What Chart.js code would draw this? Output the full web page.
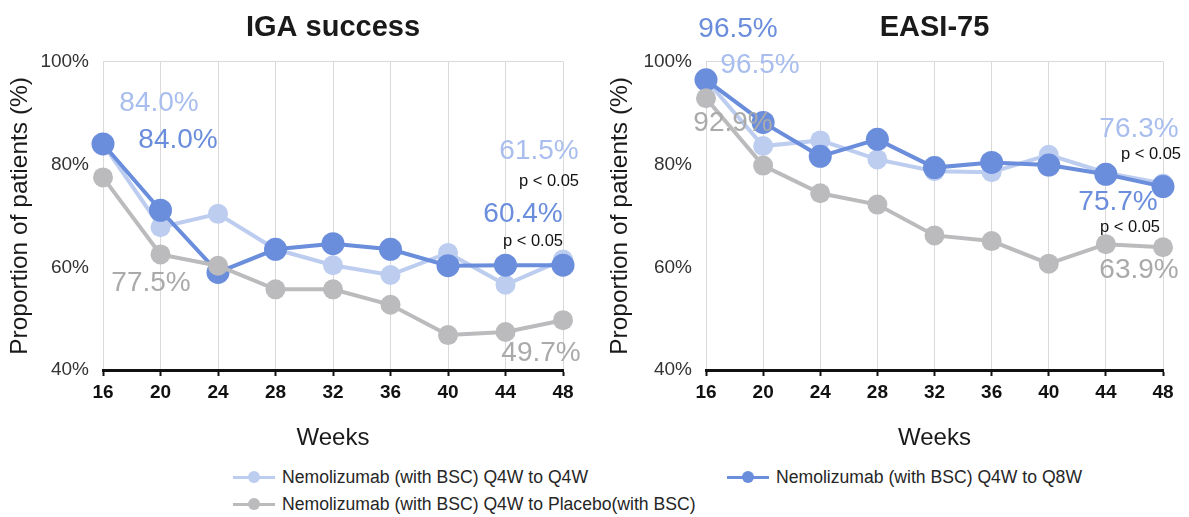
<!DOCTYPE html>
<html>
<head>
<meta charset="utf-8">
<script src="https://cdn.jsdelivr.net/npm/chart.js@4.4.1/dist/chart.umd.min.js"></script>
<style>
  html, body { margin: 0; padding: 0; background: #fff; }
  #wrap { position: relative; width: 1189px; height: 517px; overflow: hidden;
          font-family: "Liberation Sans", Arial, sans-serif; }
  .panel { position: absolute; top: 0; }
  .legend-item { position: absolute; display: flex; align-items: center; height: 24px;
                 font-size: 17.6px; color: #262626; white-space: nowrap; }
  .legend-icon { position: relative; width: 42px; height: 24px; margin-right: 7px; }
  .legend-icon .ln { position: absolute; left: 0; right: 0; top: 10.5px; height: 3px; }
  .legend-icon .dot { position: absolute; left: 15px; top: 6px; width: 12px; height: 12px; border-radius: 50%; }
</style>
</head>
<body>
<div id="wrap">
  <div class="panel" style="left:0;"><canvas id="iga" width="594" height="460"></canvas></div>
  <div class="panel" style="left:594px;"><canvas id="easi" width="595" height="460"></canvas></div>
  <div id="legend"></div>
</div>
<script>
// Study weeks on the x axis
const weeks = ['16', '20', '24', '28', '32', '36', '40', '44', '48'];

// Treatment arms
const armNames = [
  'Nemolizumab (with BSC) Q4W to Q4W',
  'Nemolizumab (with BSC) Q4W to Q8W',
  'Nemolizumab (with BSC) Q4W to Placebo(with BSC)'
];

// IGA success, % of patients
const igaQ4W     = [84.0, 67.8, 70.4, 63.5, 60.4, 58.5, 62.8, 56.6, 61.5];
const igaQ8W     = [84.0, 71.1, 59.0, 63.5, 64.6, 63.5, 60.3, 60.4, 60.4];
const igaPlacebo = [77.5, 62.5, 60.3, 55.7, 55.7, 52.7, 46.8, 47.4, 49.7];

// EASI-75, % of patients
const easiQ4W     = [96.5, 83.6, 84.7, 81.0, 78.7, 78.5, 81.9, 78.4, 76.3];
const easiQ8W     = [96.5, 88.2, 81.6, 84.9, 79.4, 80.4, 79.9, 78.1, 75.7];
const easiPlacebo = [92.9, 79.8, 74.4, 72.2, 66.2, 65.1, 60.7, 64.5, 63.9];

// Y axis ticks (%)
const yTicks = [40, 60, 80, 100];

const FONT = '"Liberation Sans", Arial, sans-serif';

// Styling per arm: line / point colour, label colour, point radius, draw order
const armStyle = [
  { color: '#BDCDF0', label: '#A9BEEE', radius: 10, order: 2 },
  { color: '#6A8DDC', label: '#6A8DDC', radius: 11.5, order: 1 },
  { color: '#BBBBBD', label: '#AAAAAA', radius: 10, order: 0 }
];

function makeDatasets(series) {
  return series.map((values, k) => ({
    label: armNames[k],
    data: values,
    borderColor: armStyle[k].color,
    backgroundColor: armStyle[k].color,
    pointBackgroundColor: armStyle[k].color,
    pointBorderColor: armStyle[k].color,
    pointBorderWidth: 0,
    pointRadius: armStyle[k].radius,
    pointHoverRadius: armStyle[k].radius,
    borderWidth: 4,
    tension: 0,
    clip: false,
    order: armStyle[k].order
  }));
}

// Value call-outs drawn next to selected points (offsets in px from the point)
const valueLabels = {
  id: 'valueLabels',
  afterDatasetsDraw(chart, args, opts) {
    const ctx = chart.ctx;
    ctx.save();
    ctx.textAlign = 'center';
    ctx.textBaseline = 'middle';
    for (const it of opts.items) {
      const pt = chart.getDatasetMeta(it.ds).data[it.i];
      const v = chart.data.datasets[it.ds].data[it.i];
      ctx.font = '28px ' + FONT;
      ctx.fillStyle = armStyle[it.ds].label;
      ctx.fillText(v.toFixed(1) + '%', pt.x + it.dx, pt.y + it.dy);
      if (it.note) {
        ctx.font = '16.5px ' + FONT;
        ctx.fillStyle = '#111';
        ctx.fillText(it.note, pt.x + it.ndx, pt.y + it.ndy);
      }
    }
    ctx.restore();
  }
};

function makeChart(id, title, series, layout, items) {
  return new Chart(document.getElementById(id), {
    type: 'line',
    data: { labels: weeks, datasets: makeDatasets(series) },
    plugins: [valueLabels],
    options: {
      responsive: false,
      animation: false,
      events: [],
      layout: { padding: { left: 0, right: layout.right, top: 0, bottom: 0 } },
      plugins: {
        legend: { display: false },
        tooltip: { enabled: false },
        title: {
          display: true,
          fullSize: false,
          text: title,
          color: '#1a1a1a',
          font: { family: FONT, size: 29, weight: 'bold' },
          padding: { top: 11, bottom: 16 }
        },
        valueLabels: { items }
      },
      scales: {
        x: {
          offset: false,
          grid: { color: '#d9d9d9', lineWidth: 1, drawTicks: true, tickLength: 6, tickColor: '#111', tickWidth: 2 },
          border: { display: true, color: '#111', width: 3 },
          ticks: { color: '#111', padding: 5, font: { family: FONT, size: 19, weight: 'bold' } },
          title: {
            display: true, text: 'Weeks', color: '#1a1a1a',
            font: { family: FONT, size: 24 }, padding: { top: 0, bottom: 7 }
          },
          afterFit(s) { s.height = 90; }
        },
        y: {
          min: 40, max: 100,
          afterBuildTicks(s) { s.ticks = yTicks.map(v => ({ value: v })); },
          grid: {
            drawTicks: false,
            color: ctx => (ctx.tick && ctx.tick.value === 100 ? '#d9d9d9' : 'rgba(0,0,0,0)')
          },
          border: { display: false },
          ticks: {
            padding: 14, color: '#333',
            font: { family: FONT, size: 19 },
            callback: v => v + '%'
          },
          title: {
            display: true, text: 'Proportion of patients (%)', color: '#1a1a1a',
            font: { family: FONT, size: 24.5 }, padding: { top: layout.titlePad, bottom: 0 }
          },
          afterFit(s) { s.width = layout.yWidth; }
        }
      }
    }
  });
}

makeChart('iga', 'IGA success', [igaQ4W, igaQ8W, igaPlacebo],
  { right: 31, yWidth: 103, titlePad: 6 },
  [
    { ds: 0, i: 0, dx: 56, dy: -41 },
    { ds: 1, i: 0, dx: 75, dy: -4 },
    { ds: 2, i: 0, dx: 48, dy: 106 },
    { ds: 0, i: 8, dx: -24, dy: -108, note: 'p < 0.05', ndx: -14, ndy: -78 },
    { ds: 1, i: 8, dx: -40, dy: -51, note: 'p < 0.05', ndx: -30, ndy: -24 },
    { ds: 2, i: 8, dx: -22, dy: 33 }
  ]);

makeChart('easi', 'EASI-75', [easiQ4W, easiQ8W, easiPlacebo],
  { right: 26, yWidth: 112, titlePad: 12 },
  [
    { ds: 1, i: 0, dx: 32, dy: -50 },
    { ds: 0, i: 0, dx: 54, dy: -14 },
    { ds: 2, i: 0, dx: 27, dy: 25 },
    { ds: 0, i: 8, dx: -24, dy: -54, note: 'p < 0.05', ndx: -12, ndy: -29 },
    { ds: 1, i: 8, dx: -45, dy: 16, note: 'p < 0.05', ndx: -33, ndy: 41 },
    { ds: 2, i: 8, dx: -24, dy: 23 }
  ]);

// Shared legend under both panels
const legendPos = [
  { left: 233, top: 465 },
  { left: 727, top: 465 },
  { left: 233, top: 492 }
];
const legend = document.getElementById('legend');
armNames.forEach((name, k) => {
  const item = document.createElement('div');
  item.className = 'legend-item';
  item.style.left = legendPos[k].left + 'px';
  item.style.top = legendPos[k].top + 'px';
  item.innerHTML = '<span class="legend-icon"><span class="ln" style="background:' + armStyle[k].color +
    '"></span><span class="dot" style="background:' + armStyle[k].color + '"></span></span>' +
    '<span></span>';
  item.lastChild.textContent = name;
  legend.appendChild(item);
});
</script>
</body>
</html>
